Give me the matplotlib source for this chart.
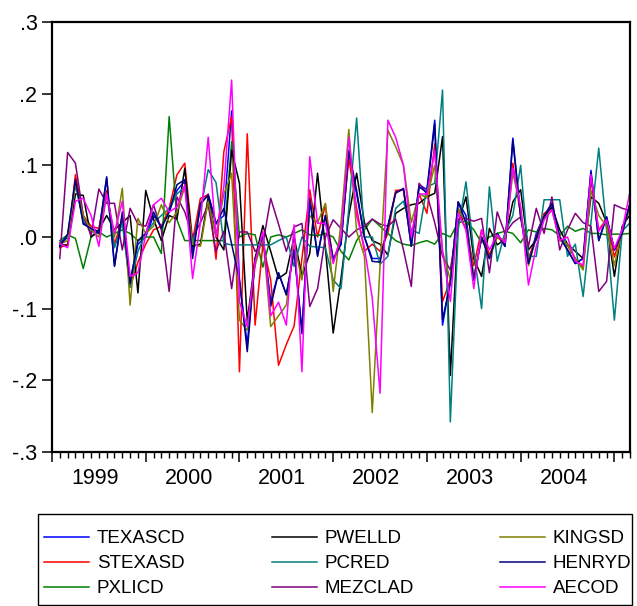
"""
Monthly first differences of nine gas price series, 1999M02-2005M03,
drawn in the style of an EViews line graph.
"""
import numpy as np
import matplotlib
matplotlib.use('Agg')
import matplotlib.pyplot as plt
import matplotlib.transforms as mtransforms
from matplotlib.patches import Rectangle
from matplotlib.ticker import FixedLocator, MultipleLocator

plt.rcParams['font.family'] = ['Liberation Sans', 'DejaVu Sans']

# months counted from 1999M01 (= 0); observations run 1999M02 .. 2005M03
months = list(range(1, 75))
years = [1999, 2000, 2001, 2002, 2003, 2004]
y_ticks = [0.3, 0.2, 0.1, 0.0, -0.1, -0.2, -0.3]
y_labels = ['.3', '.2', '.1', '.0', '-.1', '-.2', '-.3']

texascd = [-0.012, 0.0, 0.078, 0.02, 0.012, 0.008, 0.082, -0.04, 0.03, -0.06,
           -0.01, 0.0, 0.03, 0.015, 0.035, 0.065, 0.078, -0.02, 0.045, 0.06,
           0.02, 0.03, 0.176, -0.06, -0.15, -0.03, 0.0, -0.09, -0.05, -0.08,
           -0.02, -0.13, 0.055, -0.025, 0.03, -0.03, -0.01, 0.115, 0.06, 0.0,
           -0.03, -0.03, 0.015, 0.063, 0.066, -0.013, 0.073, 0.066, 0.163, -0.123,
           -0.06, 0.049, 0.03, -0.06, 0.0, -0.03, 0.005, -0.013, 0.138, 0.03,
           -0.037, 0.005, 0.03, 0.047, 0.0, -0.018, -0.037, -0.03, 0.093, -0.005,
           0.028, -0.018, 0.005, 0.047]
stexasd = [-0.015, -0.01, 0.087, 0.03, 0.015, 0.012, 0.065, -0.01, 0.025, -0.07,
           -0.035, -0.01, 0.01, 0.015, 0.04, 0.087, 0.103, -0.005, 0.054, 0.059,
           -0.031, 0.119, 0.168, -0.188, 0.144, -0.123, -0.01, -0.06, -0.179, -0.15,
           -0.124, -0.03, 0.066, 0.0, 0.045, -0.035, 0.0, 0.11, 0.04, -0.02,
           -0.01, -0.02, 0.005, 0.065, 0.066, 0.0, 0.06, 0.033, 0.13, -0.09,
           -0.06, 0.04, 0.01, -0.04, 0.01, -0.025, 0.0, -0.01, 0.103, 0.03,
           -0.03, 0.0, 0.033, 0.04, 0.0, -0.012, -0.03, -0.043, 0.08, 0.01,
           0.025, -0.028, 0.01, 0.045]
pxlicd = [-0.005, 0.003, -0.002, -0.044, 0.0, 0.007, 0.0, 0.005, 0.01, 0.005,
          -0.005, 0.0, 0.0, -0.023, 0.168, 0.024, -0.005, -0.005, -0.005, -0.005,
          -0.005, -0.005, 0.133, 0.0, 0.005, 0.003, -0.042, 0.0, 0.003, 0.0,
          0.005, 0.01, 0.003, 0.002, 0.005, 0.0, -0.02, -0.032, -0.005, 0.01,
          0.025, 0.015, 0.005, -0.005, -0.01, -0.012, -0.008, -0.005, -0.01, 0.005,
          0.0, 0.02, 0.022, 0.01, -0.008, 0.0, 0.005, 0.008, 0.005, -0.008,
          0.01, 0.007, 0.012, 0.01, 0.002, 0.015, 0.008, 0.012, 0.005, 0.005,
          0.003, 0.004, 0.004, 0.005]
pwelld = [-0.01, -0.012, 0.06, 0.058, 0.0, 0.01, 0.03, 0.01, 0.02, 0.03,
          -0.078, 0.065, 0.025, -0.005, 0.03, 0.025, 0.096, -0.013, -0.01, 0.056,
          0.0, -0.018, 0.121, 0.075, -0.118, -0.03, 0.016, -0.02, -0.058, -0.05,
          0.0, -0.055, -0.023, 0.089, -0.015, -0.134, -0.058, 0.03, 0.089, 0.02,
          -0.005, -0.01, -0.025, 0.033, 0.04, 0.045, 0.047, 0.056, 0.061, 0.14,
          -0.193, 0.02, 0.056, -0.03, -0.055, 0.012, -0.011, -0.003, 0.049, 0.066,
          -0.018, -0.004, 0.028, 0.042, 0.01, -0.01, -0.02, -0.03, 0.056, 0.047,
          0.02, -0.055, 0.015, 0.031]
pcred = [-0.008, 0.002, 0.072, 0.025, 0.008, 0.005, 0.06, -0.015, 0.02, -0.07,
         -0.02, 0.005, 0.02, 0.03, 0.04, 0.06, 0.07, -0.01, 0.038, 0.094,
         0.076, -0.009, -0.011, -0.011, -0.011, -0.011, -0.011, -0.011, -0.005, 0.0,
         -0.041, 0.0, -0.013, -0.014, -0.015, -0.06, -0.072, 0.04, 0.166, 0.0,
         0.0, -0.038, -0.027, 0.04, 0.05, 0.01, 0.005, 0.07, 0.075, 0.205,
         -0.258, 0.01, 0.077, -0.02, -0.1, 0.07, -0.034, 0.007, 0.03, 0.1,
         -0.027, -0.027, 0.052, 0.052, 0.052, -0.027, -0.01, -0.083, 0.02, 0.124,
         0.01, -0.116, 0.008, 0.02]
mezclad = [-0.03, 0.118, 0.103, 0.03, 0.002, 0.067, 0.047, 0.047, -0.018, 0.04,
           0.018, 0.015, 0.045, 0.01, -0.076, 0.056, 0.035, 0.0, 0.02, 0.045,
           -0.02, 0.008, -0.072, 0.007, 0.007, -0.02, -0.01, 0.054, 0.018, -0.02,
           0.014, 0.019, -0.097, -0.072, 0.0, 0.024, 0.012, 0.0, 0.01, 0.015,
           0.025, 0.018, 0.015, 0.025, -0.018, -0.069, 0.075, 0.06, 0.02, -0.027,
           -0.046, 0.025, 0.026, 0.022, 0.026, -0.05, 0.035, 0.005, 0.02, 0.028,
           -0.013, 0.04, 0.005, 0.056, -0.018, 0.01, 0.033, 0.02, 0.015, -0.076,
           -0.062, 0.045, 0.04, 0.037]
kingsd = [-0.01, -0.005, 0.075, 0.03, 0.01, 0.0, 0.06, 0.0, 0.068, -0.095,
          0.026, 0.005, 0.015, 0.045, 0.02, 0.035, 0.07, -0.01, -0.013, 0.05,
          0.0, 0.06, 0.089, -0.116, -0.13, -0.04, 0.0, -0.125, -0.11, -0.095,
          -0.01, -0.06, 0.03, 0.02, 0.047, -0.076, 0.02, 0.15, 0.008, -0.027,
          -0.245, -0.04, 0.149, 0.126, 0.1, 0.02, 0.06, 0.055, 0.1, -0.02,
          -0.06, 0.04, 0.02, -0.055, 0.0, -0.03, 0.0, -0.005, 0.09, 0.04,
          -0.04, 0.0, 0.025, 0.038, -0.005, -0.01, -0.03, -0.046, 0.065, 0.03,
          0.015, -0.04, 0.01, 0.04]
henryd = [-0.013, 0.004, 0.08, 0.018, 0.012, 0.005, 0.084, -0.041, 0.035, -0.065,
          -0.005, 0.005, 0.035, 0.012, 0.035, 0.073, 0.08, -0.03, 0.047, 0.058,
          0.018, 0.04, -0.01, -0.06, -0.16, -0.032, 0.003, -0.097, -0.05, -0.081,
          -0.018, -0.135, 0.052, -0.027, 0.03, -0.032, -0.01, 0.121, 0.065, 0.0,
          -0.034, -0.035, 0.015, 0.061, 0.068, -0.013, 0.07, 0.062, 0.158, -0.115,
          -0.065, 0.049, 0.02, -0.06, 0.0, -0.03, 0.005, -0.013, 0.135, 0.028,
          -0.037, 0.0, 0.028, 0.047, 0.0, -0.018, -0.037, -0.03, 0.09, -0.005,
          0.028, -0.018, 0.005, 0.047]
aecod = [-0.009, -0.015, 0.05, 0.054, 0.03, -0.013, 0.06, 0.005, 0.05, -0.055,
         -0.05, 0.003, 0.045, 0.054, 0.035, 0.042, 0.073, -0.058, 0.02, 0.139,
         0.0, 0.07, 0.219, -0.09, -0.125, -0.035, 0.008, -0.11, -0.091, -0.123,
         0.017, -0.188, 0.112, 0.019, 0.019, -0.037, 0.0, 0.139, 0.03, -0.015,
         -0.085, -0.218, 0.163, 0.139, 0.1, 0.0, 0.06, 0.06, 0.121, -0.02,
         -0.09, 0.033, 0.01, -0.072, 0.01, -0.018, 0.003, -0.008, 0.096, 0.042,
         -0.067, -0.013, 0.024, 0.038, -0.005, 0.0, -0.034, -0.039, 0.087, 0.008,
         0.024, -0.016, 0.01, 0.063]

series_names = ['TEXASCD', 'STEXASD', 'PXLICD', 'PWELLD', 'PCRED',
                'MEZCLAD', 'KINGSD', 'HENRYD', 'AECOD']
series_values = [texascd, stexasd, pxlicd, pwelld, pcred,
                 mezclad, kingsd, henryd, aecod]
series_colors = ['#0000ff', '#ff0000', '#008000', '#000000', '#008080',
                 '#800080', '#808000', '#000080', '#ff00ff']


def main():
    fig = plt.figure(figsize=(6.37, 6.06), dpi=100)
    ax = fig.add_axes([52 / 637, 1 - 452 / 606, 578 / 637, 430 / 606])

    for name, vals, col in zip(series_names, series_values, series_colors):
        ax.plot(months, vals, color=col, lw=1.1, label=name)

    ax.set_xlim(0, 74)
    ax.set_ylim(-0.3, 0.3)

    # y axis
    ax.yaxis.set_major_locator(FixedLocator(y_ticks))
    ax.set_yticklabels(y_labels)
    ax.tick_params(axis='y', direction='out', length=7.5, width=1.1,
                   pad=3, labelsize=15.5)

    # x axis: long ticks at each January, short ticks every month
    ax.xaxis.set_major_locator(MultipleLocator(12))
    ax.xaxis.set_minor_locator(MultipleLocator(1))
    ax.tick_params(axis='x', which='major', direction='out', length=7.5,
                   width=1.1, labelbottom=False)
    ax.tick_params(axis='x', which='minor', direction='out', length=4.5,
                   width=1.0)

    trans = mtransforms.blended_transform_factory(ax.transData, ax.transAxes)
    for k, yr in enumerate(years):
        ax.text(12 * k + 5.5, -27 / 430, str(yr), transform=trans,
                ha='center', va='center', fontsize=15.5)

    for sp in ax.spines.values():
        sp.set_linewidth(1.6)

    # legend: entries without frame, box drawn separately
    fsize = 13.5
    fig.legend(loc='upper left', bbox_to_anchor=(44 / 637, 1 - 530 / 606),
               ncol=3, fontsize=fsize, frameon=False,
               handlelength=45 / (fsize * 100 / 72), handletextpad=0.42,
               columnspacing=4.6, labelspacing=0.42,
               borderpad=0, borderaxespad=0)
    fig.patches.append(Rectangle((38 / 637, 1 - 605 / 606), 594 / 637, 91 / 606,
                                 transform=fig.transFigure, fill=False,
                                 ec='black', lw=1.0))

    fig.savefig('out.png', dpi=100)


if __name__ == '__main__':
    main()
